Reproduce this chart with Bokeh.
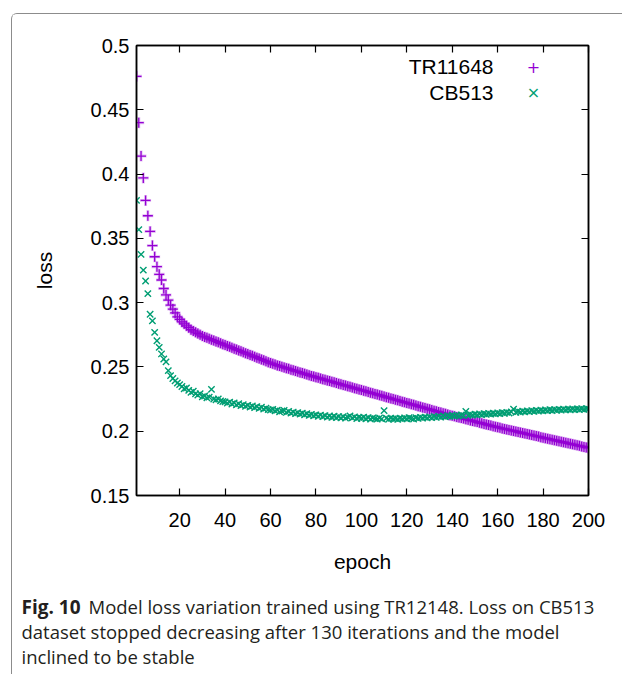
from bokeh.plotting import figure
from bokeh.layouts import column
from bokeh.models import LinearAxis, FixedTicker, CustomJSTickFormatter, Label, Range1d
from bokeh.embed import file_html
from bokeh.resources import INLINE

epochs = list(range(1, 201))

tr11648 = [
    0.476, 0.440, 0.414, 0.397, 0.3795, 0.3676, 0.3554, 0.3444, 0.3357, 0.328,
    0.322, 0.3176, 0.311, 0.306, 0.302, 0.298, 0.295, 0.292, 0.289, 0.287,
    0.285, 0.2835, 0.282, 0.2805, 0.279, 0.278, 0.277, 0.276, 0.275, 0.274,
    0.2733, 0.2726, 0.2719, 0.2712, 0.2705, 0.2698, 0.2691, 0.2684, 0.2677, 0.2670,
    0.2663, 0.2656, 0.2649, 0.2642, 0.2635, 0.2628, 0.2621, 0.2614, 0.2607, 0.2600,
    0.2593, 0.2586, 0.2579, 0.2572, 0.2565, 0.2558, 0.2551, 0.2544, 0.2537, 0.2530,
    0.2524, 0.2518, 0.2512, 0.2507, 0.2501, 0.2496, 0.2490, 0.2485, 0.2479, 0.2474,
    0.2468, 0.2463, 0.2457, 0.2452, 0.2446, 0.2441, 0.2435, 0.2430, 0.2425, 0.2420,
    0.2415, 0.2410, 0.2405, 0.2400, 0.2395, 0.2390, 0.2385, 0.2380, 0.2375, 0.2370,
    0.2365, 0.2360, 0.2355, 0.2350, 0.2345, 0.2340, 0.2335, 0.2330, 0.2325, 0.2320,
    0.2315, 0.2310, 0.2305, 0.2300, 0.2295, 0.2290, 0.2285, 0.2280, 0.2275, 0.2270,
    0.2265, 0.2260, 0.2255, 0.2250, 0.2245, 0.2240, 0.2235, 0.2230, 0.2225, 0.2220,
    0.2215, 0.2210, 0.2205, 0.2200, 0.2195, 0.2190, 0.2185, 0.2180, 0.2175, 0.2170,
    0.2165, 0.2160, 0.2155, 0.2150, 0.2145, 0.2140, 0.2135, 0.2130, 0.2125, 0.2120,
    0.2116, 0.2111, 0.2107, 0.2102, 0.2098, 0.2093, 0.2089, 0.2084, 0.2080, 0.2075,
    0.2071, 0.2066, 0.2062, 0.2057, 0.2053, 0.2048, 0.2044, 0.2039, 0.2035, 0.2030,
    0.2026, 0.2022, 0.2018, 0.2014, 0.2010, 0.2006, 0.2002, 0.1998, 0.1994, 0.1990,
    0.1986, 0.1982, 0.1978, 0.1974, 0.1970, 0.1966, 0.1962, 0.1958, 0.1954, 0.1950,
    0.1946, 0.1942, 0.1938, 0.1934, 0.1930, 0.1926, 0.1922, 0.1918, 0.1914, 0.1910,
    0.1906, 0.1902, 0.1898, 0.1894, 0.1890, 0.1886, 0.1882, 0.1878, 0.1874, 0.1870,
]

cb513 = [
    0.3795, 0.3568, 0.3375, 0.3253, 0.3168, 0.3070, 0.2910, 0.2858, 0.2769, 0.2704,
    0.2652, 0.2601, 0.2562, 0.2539, 0.2471, 0.2432, 0.2410, 0.2392, 0.2375, 0.2362,
    0.2348, 0.2330, 0.2336, 0.2318, 0.2302, 0.2311, 0.2290, 0.2281, 0.2292, 0.2268,
    0.2274, 0.2259, 0.2265, 0.2325, 0.2250, 0.2244, 0.2252, 0.2236, 0.2231, 0.2228,
    0.2219, 0.2226, 0.2212, 0.2220, 0.2205, 0.2214, 0.2199, 0.2207, 0.2193, 0.2201,
    0.2188, 0.2196, 0.2183, 0.2191, 0.2178, 0.2186, 0.2172, 0.2180, 0.2168, 0.2165,
    0.2170, 0.2158, 0.2164, 0.2150, 0.2157, 0.2162, 0.2146, 0.2153, 0.2141, 0.2149,
    0.2137, 0.2144, 0.2133, 0.2140, 0.2128, 0.2136, 0.2124, 0.2131, 0.2120, 0.2127,
    0.2116, 0.2125, 0.2113, 0.2121, 0.2110, 0.2118, 0.2108, 0.2116, 0.2106, 0.2114,
    0.2104, 0.2113, 0.2102, 0.2110, 0.2118, 0.2104, 0.2112, 0.2099, 0.2108, 0.2101,
    0.2109, 0.2097, 0.2106, 0.2095, 0.2104, 0.2098, 0.2094, 0.2103, 0.2096, 0.2160,
    0.2101, 0.2093, 0.2102, 0.2095, 0.2099, 0.2092, 0.2101, 0.2096, 0.2103, 0.2097,
    0.2105, 0.2099, 0.2095, 0.2106, 0.2100, 0.2108, 0.2102, 0.2110, 0.2104, 0.2111,
    0.2106, 0.2114, 0.2108, 0.2116, 0.2110, 0.2118, 0.2112, 0.2120, 0.2115, 0.2122,
    0.2117, 0.2124, 0.2119, 0.2126, 0.2121, 0.2154, 0.2123, 0.2130, 0.2125, 0.2132,
    0.2127, 0.2134, 0.2129, 0.2136, 0.2131, 0.2138, 0.2133, 0.2140, 0.2135, 0.2142,
    0.2137, 0.2145, 0.2140, 0.2147, 0.2142, 0.2150, 0.2172, 0.2146, 0.2153, 0.2148,
    0.2156, 0.2150, 0.2158, 0.2152, 0.2160, 0.2154, 0.2162, 0.2156, 0.2163, 0.2158,
    0.2165, 0.2160, 0.2167, 0.2161, 0.2168, 0.2163, 0.2170, 0.2164, 0.2171, 0.2166,
    0.2172, 0.2167, 0.2173, 0.2168, 0.2174, 0.2169, 0.2175, 0.2170, 0.2176, 0.2172,
]

x_ticks = [20, 40, 60, 80, 100, 120, 140, 160, 180, 200]
y_ticks = [0.15, 0.2, 0.25, 0.3, 0.35, 0.4, 0.45, 0.5]
series_names = ["TR11648", "CB513"]
series_colors = ["#9400d3", "#009e73"]
x_label = "epoch"
y_label = "loss"
caption_bold = "Fig. 10"
caption_lines = [
    "Model loss variation trained using TR12148. Loss on CB513",
    "dataset stopped decreasing after 130 iterations and the model",
    "inclined to be stable",
]

FONT = "Liberation Sans"
FS = "21px"
TICK_FS = "20px"

# chart figure: its canvas starts at page (12, 14) inside the bordered column
p = figure(width=610, height=561, output_backend="svg", toolbar_location=None,
           x_range=Range1d(1, 200), y_range=Range1d(0.15, 0.5),
           min_border_left=124, min_border_right=34, min_border_top=31, min_border_bottom=78)
p.frame_align = False
p.grid.visible = False
p.outline_line_color = "black"
p.outline_line_width = 1.5

fmt = CustomJSTickFormatter(code="return String(Math.round(tick*100)/100);")
blank = CustomJSTickFormatter(code="return '';")

for ax in (p.xaxis[0], p.yaxis[0]):
    ax.major_label_text_font = FONT
    ax.major_label_text_font_size = TICK_FS
    ax.major_label_text_color = "black"
    ax.axis_label_text_font = FONT
    ax.axis_label_text_font_size = FS
    ax.axis_label_text_font_style = "normal"
    ax.axis_label_text_color = "black"
    ax.major_tick_in = 7
    ax.major_tick_out = 0
    ax.minor_tick_line_color = None
    ax.axis_line_width = 1.5
    ax.major_tick_line_width = 1.2
    ax.formatter = fmt

p.xaxis[0].ticker = FixedTicker(ticks=x_ticks)
p.yaxis[0].ticker = FixedTicker(ticks=y_ticks)
p.xaxis[0].axis_label = x_label
p.yaxis[0].axis_label = y_label
p.xaxis[0].major_label_standoff = 17
p.yaxis[0].major_label_standoff = 7
p.xaxis[0].axis_label_standoff = 20
p.yaxis[0].axis_label_standoff = 32

top_ax = LinearAxis(ticker=FixedTicker(ticks=x_ticks), formatter=blank)
right_ax = LinearAxis(ticker=FixedTicker(ticks=y_ticks), formatter=blank)
for ax in (top_ax, right_ax):
    ax.major_tick_in = 7
    ax.major_tick_out = 0
    ax.minor_tick_line_color = None
    ax.major_label_text_font_size = "0px"
    ax.major_label_standoff = 0
    ax.axis_line_width = 1.5
    ax.major_tick_line_width = 1.2
p.add_layout(top_ax, "above")
p.add_layout(right_ax, "right")

# soft halo under the purple crosses (as in the anti-aliased original), then the marks
p.scatter(epochs, tr11648, marker="cross", size=11, line_color=series_colors[0], line_width=3, line_alpha=0.25)
p.scatter(epochs, tr11648, marker="cross", size=10, line_color=series_colors[0], line_width=1.3)
p.scatter(epochs, cb513, marker="x", size=9, line_color=series_colors[1], line_width=1.4)

# legend (gnuplot style: label then marker)
for i, (name, col, sym) in enumerate(zip(series_names, series_colors, ["+", "\u00d7"])):
    yy = 52 + i * 26
    p.add_layout(Label(x=481, y=yy, x_units="canvas", y_units="canvas", text=name,
                       text_align="right", text_baseline="middle",
                       text_font=FONT, text_font_size=FS, text_color="black"))
    p.add_layout(Label(x=521, y=yy, x_units="canvas", y_units="canvas", text=sym,
                       text_align="center", text_baseline="middle",
                       text_font="DejaVu Sans", text_font_size="16px", text_color=col))

# caption figure
CAP_FONT = "Open Sans"
CAP_FS = "18.5px"
cap = figure(width=610, height=110, output_backend="svg", toolbar_location=None,
             x_range=Range1d(0, 1), y_range=Range1d(0, 1),
             x_axis_location=None, y_axis_location=None,
             min_border_left=0, min_border_right=0, min_border_top=0, min_border_bottom=0)
cap.frame_align = False
cap.grid.visible = False
cap.outline_line_color = None
cap.add_layout(Label(x=9, y=31, x_units="canvas", y_units="canvas", text=caption_bold,
                     text_align="left", text_baseline="middle", text_font=CAP_FONT,
                     text_font_style="bold", text_font_size="19px", text_color="#231f20"))
for i, line in enumerate(caption_lines):
    cap.add_layout(Label(x=76 if i == 0 else 9, y=31 + 25 * i, x_units="canvas", y_units="canvas",
                         text=line, text_align="left", text_baseline="middle", text_font=CAP_FONT,
                         text_font_size=CAP_FS, text_color="#231f20"))

layout = column(p, cap, spacing=0, margin=(13, 0, 0, 11),
                styles={"border-left": "1px solid #8c8c8c", "border-top": "1px solid #8c8c8c",
                        "border-top-left-radius": "6px"})

open("out.html", "w").write(file_html(layout, INLINE))
